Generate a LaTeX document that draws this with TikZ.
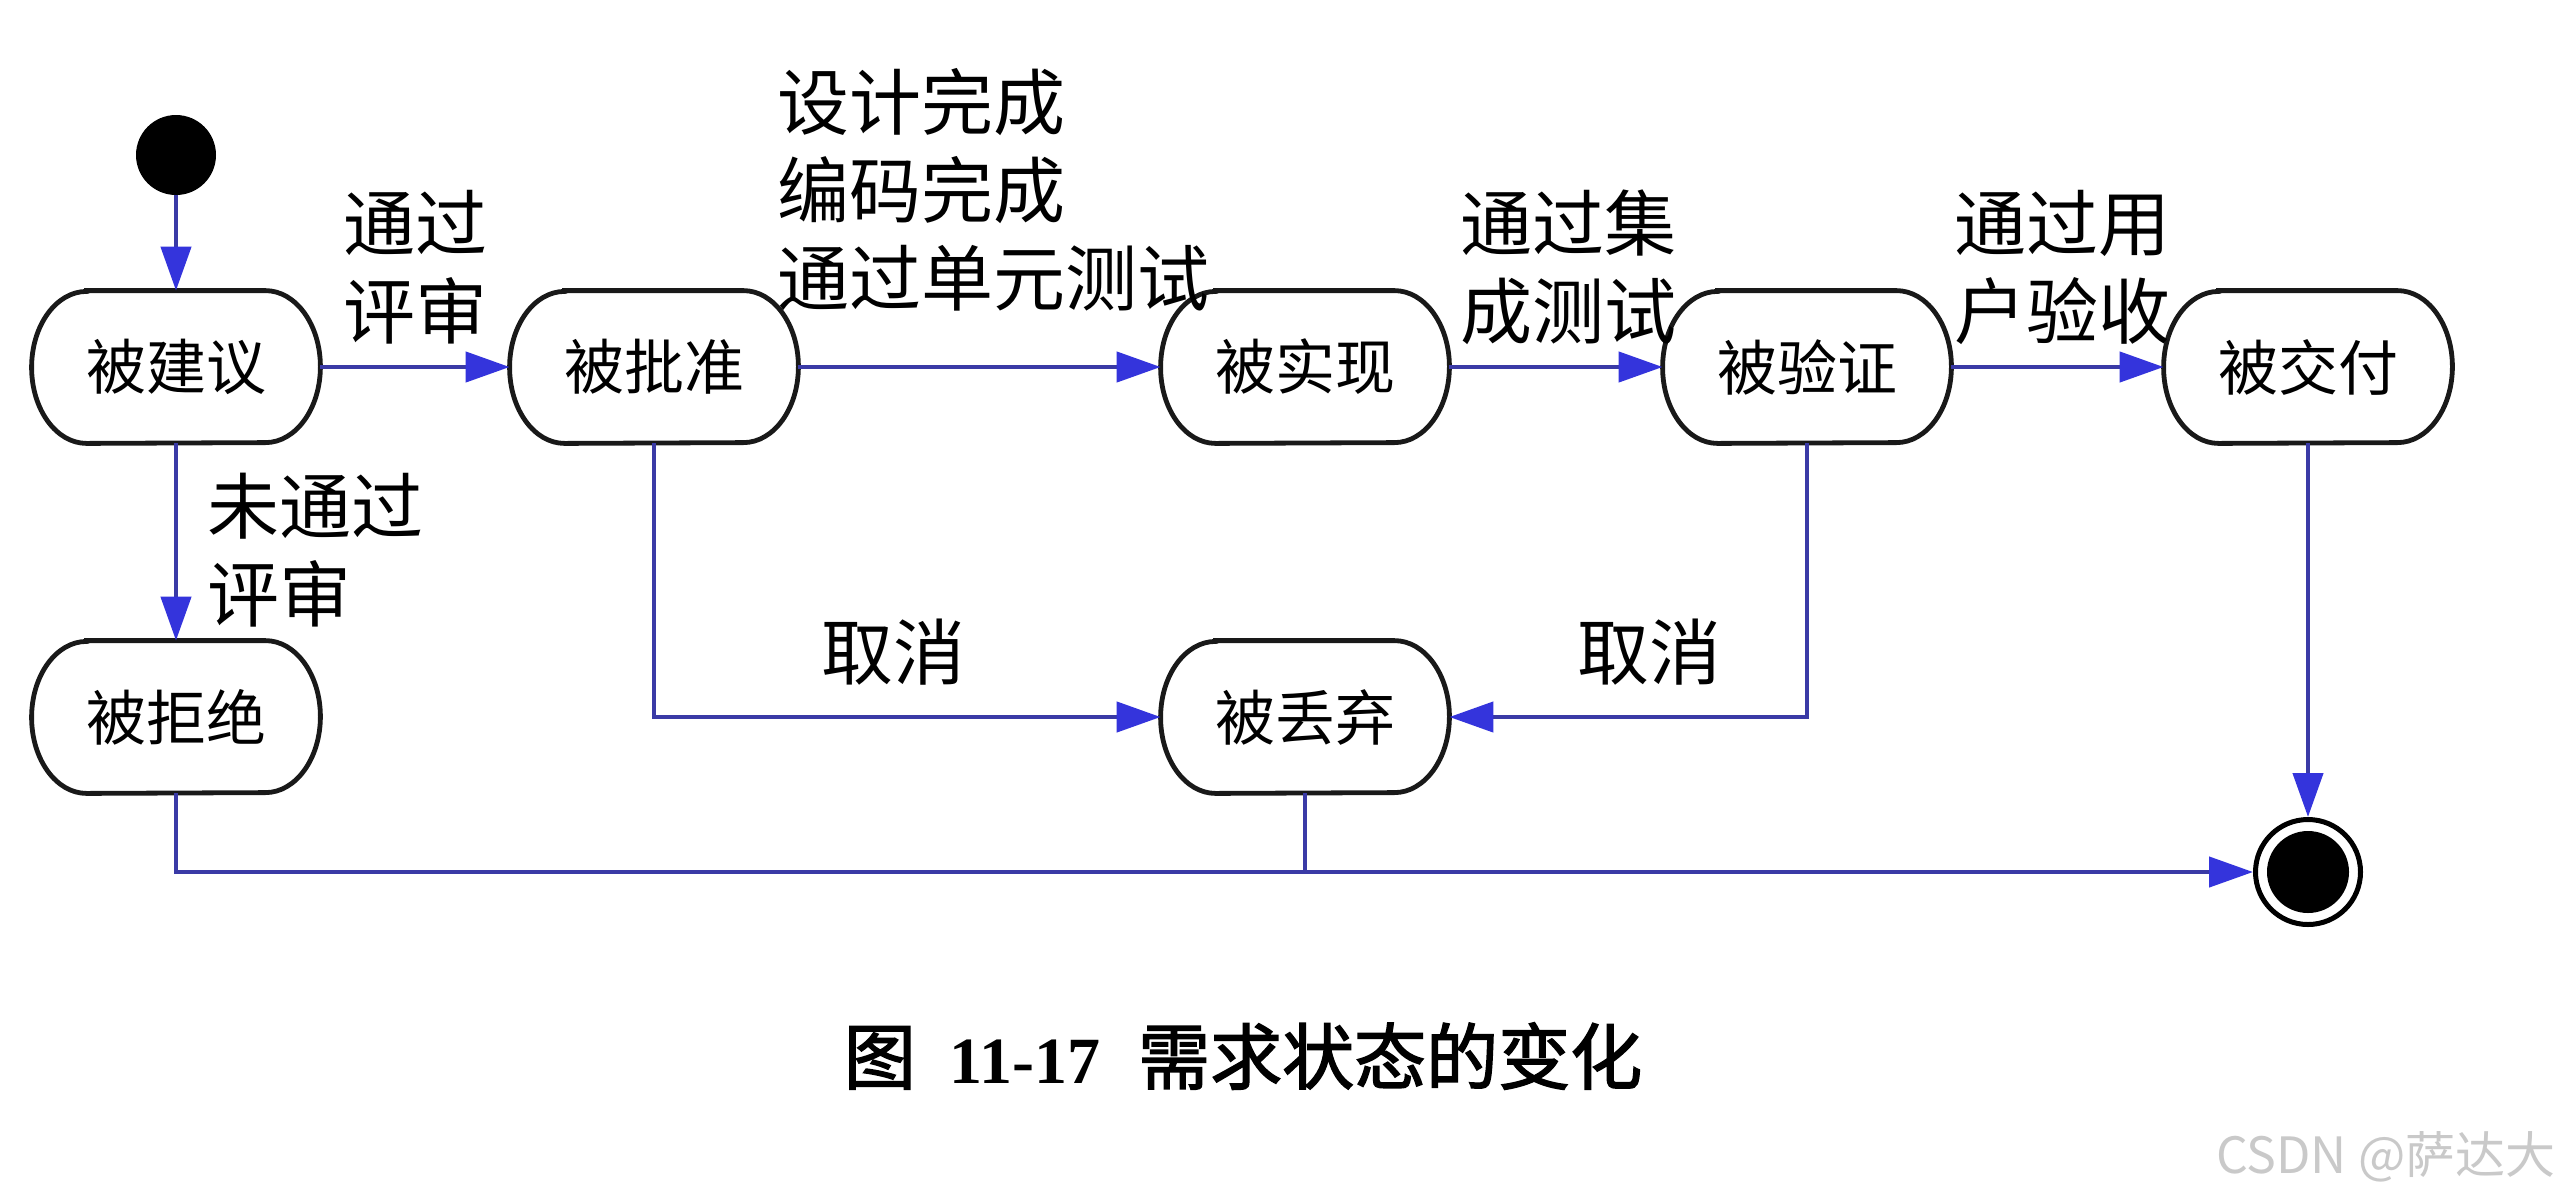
\documentclass[tikz,border=0pt]{standalone}
\usepackage{fontspec}
\setmainfont{Liberation Serif}
\newfontfamily\cjk{Noto Sans CJK SC}
\newfontfamily\cjkcap[FakeBold=2]{Noto Sans CJK SC}
\newfontfamily\capnum{Liberation Serif}
\usetikzlibrary{arrows.meta,calc}
\definecolor{lineblue}{HTML}{3A3AA6}
\definecolor{tipblue}{HTML}{3434DC}
\definecolor{wmgray}{HTML}{C9C9C9}
\begin{document}
\begin{tikzpicture}[x=0.5pt,y=-0.5pt,
  state/.style={minimum width=144pt, minimum height=76pt, inner sep=0pt, font=\cjk\fontsize{30pt}{36pt}\selectfont},
  outline/.style={draw=black!90, line width=2.4pt},
  lbl/.style={inner sep=0pt, anchor=west, align=left, font=\cjk\fontsize{36pt}{44pt}\selectfont},
  flow/.style={draw=lineblue, line width=2.2pt, -{Triangle[length=22pt,width=15pt,color=tipblue]}},
  plainline/.style={draw=lineblue, line width=2.2pt},
  ]
\fill[white] (0,0) rectangle (2560,1196);
\useasboundingbox (0,0) rectangle (2560,1196);

% states
\node[state] (s1) at (176,367) {被建议};
\node[state] (s2) at (654,367) {被批准};
\node[state] (s3) at (1305,367) {被实现};
\node[state] (s4) at (1807,367) {被验证};
\node[state] (s5) at (2308,367) {被交付};
\node[state] (rej) at (176,717) {被拒绝};
\node[state] (drop) at (1305,717) {被丢弃};
\foreach \n in {s1,s2,s3,s4,s5,rej,drop}{
  \draw[outline] ($(\n.north west)+(27.5pt,0)$) -- ($(\n.north east)+(-27.5pt,0)$)
    arc[start angle=90,end angle=-90,x radius=27.5pt,y radius=38pt]
    -- ($(\n.south west)+(27.5pt,0)$)
    arc[start angle=270,end angle=90,x radius=27.5pt,y radius=38pt] -- cycle;
}

% initial and final
\node[circle, fill=black, minimum size=40pt, inner sep=0pt] (start) at (176,155) {};
\node[circle, draw=black, line width=2.5pt, fill=white, minimum size=52.5pt, inner sep=0pt] (end) at (2308,872) {};
\fill[black] (end.center) circle[radius=20.5pt];

% connectors
\draw[flow] (start.south) -- (s1.north);
\draw[flow] (s1.east) -- (s2.west);
\draw[flow] (s2.east) -- (s3.west);
\draw[flow] (s3.east) -- (s4.west);
\draw[flow] (s4.east) -- (s5.west);
\draw[flow] (s1.south) -- (rej.north);
\draw[flow] (s2.south) |- (drop.west);
\draw[flow] (s4.south) |- (drop.east);
\draw[flow] (s5.south) -- (end.north);
\draw[flow] (rej.south) |- (end.west);
\draw[plainline] (drop.south) -- (drop.south |- end.west);

% labels
\node[lbl] (l1) at (343,267) {通过\\评审};
\node[lbl] (l2) at (777,190) {设计完成\\编码完成\\通过单元测试};
\node[lbl] (l3) at (1460,267) {通过集\\成测试};
\node[lbl] (l4) at (1954,267) {通过用\\户验收};
\node[lbl] (l5) at (207,550) {未通过\\评审};
\node[lbl,anchor=center] (c1) at (893,652) {取消};
\node[lbl,anchor=center] (c2) at (1649,652) {取消};

% caption
\node[inner sep=0pt] (cap) at (1243,1056) {\cjkcap\fontsize{36pt}{40pt}\selectfont 图\hspace{17pt}{\capnum\bfseries\fontsize{33pt}{36pt}\selectfont 11-17}\hspace{19pt}需求状态的变化};
\node[inner sep=0pt, anchor=east, text=wmgray, font=\cjk\fontsize{25pt}{28pt}\selectfont] (wm) at (2556,1157) {CSDN @萨达大};
\end{tikzpicture}
\end{document}
